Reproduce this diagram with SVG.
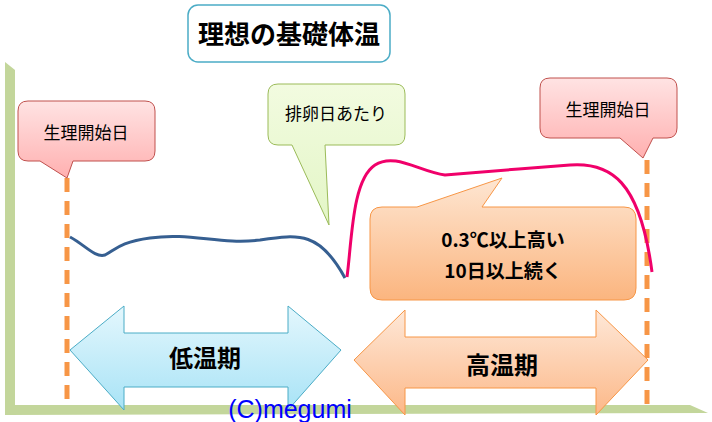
<svg xmlns="http://www.w3.org/2000/svg" width="712" height="422" viewBox="0 0 712 422">
<defs>
<linearGradient id="gPink" x1="0" y1="0" x2="0" y2="1"><stop offset="0" stop-color="#ffe3e3"/><stop offset="1" stop-color="#ffb0b0"/></linearGradient>
<linearGradient id="gGreen" x1="0" y1="0" x2="0" y2="1"><stop offset="0" stop-color="#f2fbe0"/><stop offset="1" stop-color="#e3f6c6"/></linearGradient>
<linearGradient id="gOr" x1="0" y1="0" x2="0" y2="1"><stop offset="0" stop-color="#fee6d2"/><stop offset="1" stop-color="#fbb57f"/></linearGradient>
<linearGradient id="gBlue" x1="0" y1="0" x2="0" y2="1"><stop offset="0" stop-color="#e4f7fd"/><stop offset="1" stop-color="#a8e3f6"/></linearGradient>
<linearGradient id="gOr2" x1="0" y1="0" x2="0" y2="1"><stop offset="0" stop-color="#fee8d8"/><stop offset="1" stop-color="#fcb888"/></linearGradient>
</defs>
<style>
.jp{font-family:"Noto Sans CJK JP","Liberation Sans",sans-serif;fill:#000;text-anchor:middle}
.dash{stroke:#f79646;stroke-width:5;stroke-dasharray:14,9;fill:none}
</style>
<g id="axes">
<polygon points="5,62 15,70 15,405 5,412" fill="#c3d69b"/>
<polygon points="5,405 690,405 708,413 5,415" fill="#c3d69b"/>
</g>
<g id="connectors">
<line class="dash" x1="67" y1="178" x2="67" y2="405"/>
<line class="dash" x1="647" y1="160" x2="647" y2="405"/>
<path d="M70,237 C85,245 95,258 105,255 C115,250 120,242 150,238 C190,232 220,245 260,240 C300,234 320,232 345,278" fill="none" stroke="#365f91" stroke-width="3"/>
<path d="M347,277 C352,240 352,180 375,165 C395,152 420,172 445,175 C480,172 530,168 570,165 C610,162 640,180 652,272" fill="none" stroke="#f0006a" stroke-width="3"/>
</g>
<g id="title">
<rect x="188" y="5" width="202" height="57" rx="10" fill="#fff" stroke="#4bacc6" stroke-width="1.5"/>
<text class="jp" x="289" y="44" font-size="26" font-weight="bold">理想の基礎体温</text>
</g>
<g id="callout-left">
<path d="M28,101 H145 Q155,101 155,111 V151 Q155,161 145,161 H73 L67,178 L40,161 H28 Q18,161 18,151 V111 Q18,101 28,101 Z" fill="url(#gPink)" stroke="#c0504d" stroke-width="1"/>
<text class="jp" x="86" y="139" font-size="17">生理開始日</text>
</g>
<g id="callout-ovulation">
<path d="M278,84 H395 Q405,84 405,94 V135 Q405,145 395,145 H325 L329,225 L292,145 H278 Q268,145 268,135 V94 Q268,84 278,84 Z" fill="url(#gGreen)" stroke="#9bbb59" stroke-width="1"/>
<text class="jp" x="336" y="120" font-size="17">排卵日あたり</text>
</g>
<g id="callout-right">
<path d="M550,78 H667 Q677,78 677,88 V128 Q677,138 667,138 H653 L643,158 L620,138 H550 Q540,138 540,128 V88 Q540,78 550,78 Z" fill="url(#gPink)" stroke="#c0504d" stroke-width="1"/>
<text class="jp" x="608" y="116" font-size="17">生理開始日</text>
</g>
<g id="callout-high">
<path d="M382,207 H417 L502,178 L482,207 H624 Q636,207 636,219 V288 Q636,300 624,300 H382 Q370,300 370,288 V219 Q370,207 382,207 Z" fill="url(#gOr)" stroke="#f79646" stroke-width="1"/>
<text class="jp" x="503" y="247" font-size="19" font-weight="bold">0.3℃以上高い</text>
<text class="jp" x="503" y="278" font-size="19" font-weight="bold">10日以上続く</text>
</g>
<g id="arrow-low">
<polygon points="70,350 124,306 124,333 288,333 288,306 341,350 288,410 288,387 124,387 124,410" fill="url(#gBlue)" stroke="#4bacc6" stroke-width="1"/>
<text class="jp" x="205" y="367" font-size="24" font-weight="bold">低温期</text>
</g>
<g id="arrow-high">
<polygon points="354,360 405,310 405,337 596,337 596,310 648,360 596,415 596,388 405,388 405,415" fill="url(#gOr2)" stroke="#f79646" stroke-width="1"/>
<text class="jp" x="502" y="374" font-size="24" font-weight="bold">高温期</text>
</g>
<text x="290" y="418" font-family="Liberation Sans, Arial, sans-serif" font-size="25" fill="#0000ff" text-anchor="middle">(C)megumi</text>
</svg>
